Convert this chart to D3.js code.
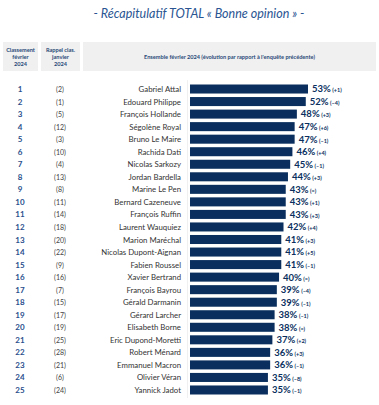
<!DOCTYPE html>
<html><head><meta charset="utf-8">
<script src="https://cdn.jsdelivr.net/npm/d3@7"></script>
<style>body{margin:0;background:#fff;}svg{display:block;font-family:Lato,"Open Sans",sans-serif;}</style>
</head><body><svg id="c" width="379" height="405"></svg>
<script>
const ranks = d3.range(1, 26);
const prevRanks = [2,1,5,12,3,10,4,13,8,11,14,18,20,22,9,16,7,15,17,19,25,28,21,6,24];
const names = ["Gabriel Attal","Edouard Philippe","François Hollande","Ségolène Royal","Bruno Le Maire","Rachida Dati","Nicolas Sarkozy","Jordan Bardella","Marine Le Pen","Bernard Cazeneuve","François Ruffin","Laurent Wauquiez","Marion Maréchal","Nicolas Dupont-Aignan","Fabien Roussel","Xavier Bertrand","François Bayrou","Gérald Darmanin","Gérard Larcher","Elisabeth Borne","Eric Dupond-Moretti","Robert Ménard","Emmanuel Macron","Olivier Véran","Yannick Jadot"];
const values = [53,52,48,47,47,46,45,44,43,43,43,42,41,41,41,40,39,39,38,38,37,36,36,35,35];
const changes = ["+1","–4","+3","+6","–1","+4","–1","+3","=","+1","+3","+4","+3","+5","–1","=","–4","–1","–1","=","+2","+3","–1","–8","–1"];
const headers = [["Classement","février","2024"],["Rappel clas.","janvier","2024"],["Ensemble février 2024 (évolution par rapport à l'enquête précédente)"]];

const svg = d3.select("#c");
const navy = "#0a2f5e", blue = "#2a4f8c";

svg.append("text").attr("x", 199).attr("y", 18).attr("text-anchor","middle")
  .attr("font-size", 12.5).attr("font-style","italic").attr("fill","#2a5592")
  .text("- Récapitulatif TOTAL « Bonne opinion » -");

const boxes = [[3,38],[41,80],[83,376]];
boxes.forEach((b,i)=>{
  svg.append("rect").attr("x",b[0]).attr("y",42).attr("width",b[1]-b[0]).attr("height",29).attr("fill","#f0f0f0");
  const lines = headers[i];
  const cx=(b[0]+b[1])/2;
  const t = svg.append("text").attr("text-anchor","middle").attr("font-size",5.6).attr("font-weight","bold").attr("fill","#2a4a78");
  const y0 = 56.5 - (lines.length-1)*7/2 + 2;
  lines.forEach((l,j)=>t.append("tspan").attr("x",cx).attr("y",y0+j*7).text(l));
});

const y = d3.scaleBand().domain(ranks).range([84.5, 394.5]).paddingInner(0.28).paddingOuter(0.0);
const x = d3.scaleLinear().domain([0, 53]).range([190, 308]);

svg.append("line").attr("x1",187.5).attr("x2",187.5).attr("y1",80).attr("y2",398).attr("stroke","#ececec").attr("stroke-width",0.8);

const g = svg.append("g");
const rows = g.selectAll("g.row").data(ranks).join("g").attr("class","row");
rows.append("rect").attr("x", x(0)).attr("y", d=>y(d)).attr("width", (d,i)=>x(values[i])-x(0)).attr("height", y.bandwidth()).attr("fill", navy);
const cy = d => y(d)+y.bandwidth()/2 + 3;
rows.append("text").attr("x",20).attr("y",cy).attr("text-anchor","middle").attr("font-size",8).attr("font-weight","bold").attr("fill",blue).text(d=>d);
rows.append("text").attr("x",60).attr("y",cy).attr("text-anchor","middle").attr("font-size",7).attr("fill","#444").text((d,i)=>"("+prevRanks[i]+")");
rows.append("text").attr("x",181).attr("y",cy).attr("text-anchor","end").attr("font-size",7.8).attr("fill","#333").text((d,i)=>names[i]);
const lab = rows.append("text").attr("x",(d,i)=>x(values[i])+4).attr("y",d=>cy(d)+0.4).attr("fill",navy);
lab.append("tspan").attr("font-size",9.5).attr("font-weight","bold").text((d,i)=>values[i]+"%");
lab.append("tspan").attr("dx",1.5).attr("font-size",5.5).attr("font-weight","bold").text((d,i)=>"("+changes[i]+")");
</script></body></html>
